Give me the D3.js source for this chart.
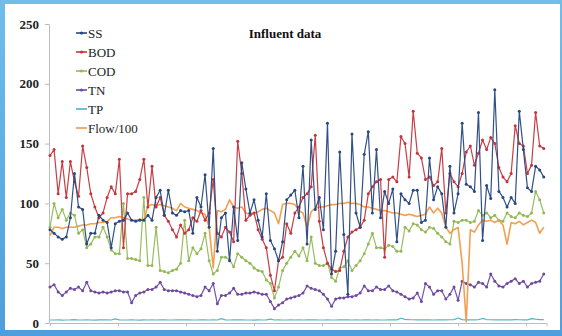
<!DOCTYPE html>
<html>
<head>
<meta charset="utf-8">
<script src="https://cdn.jsdelivr.net/npm/d3@7"></script>
<style>
  html, body { margin: 0; padding: 0; background: #fff; }
  svg { display: block; }
</style>
</head>
<body>
<div id="chart"></div>
<script>
// day index of each sample (every 3rd day of the year)
const days = d3.range(0, 366, 3);

const ss = [78,75,72,70,72,88,125,97,95,66,75,75,90,86,84,63,83,85,86,92,86,85,86,86,90,86,105,111,90,111,
  92,90,94,93,94,75,105,97,124,80,146,60,88,92,52,97,69,134,112,92,103,86,72,108,69,62,52,68,103,107,
  111,88,131,66,153,95,105,78,167,41,60,143,74,24,158,92,80,141,160,92,145,88,110,100,112,68,108,103,100,111,
  111,84,86,138,103,114,108,80,131,92,108,167,116,114,110,176,69,115,104,195,110,105,97,105,100,177,145,113,110,131,
  128,122];
const bod = [140,145,108,135,105,135,118,106,148,130,108,97,88,92,105,114,108,137,63,108,108,110,120,137,97,131,97,105,90,85,
  78,72,82,75,78,88,85,94,86,92,120,75,72,80,76,68,152,125,86,90,92,78,70,63,40,27,52,55,83,75,
  92,97,105,108,114,157,85,63,50,45,43,44,60,72,76,78,80,86,108,114,118,120,55,120,122,118,156,150,122,177,
  142,138,120,122,115,118,146,92,125,118,114,125,143,148,132,142,153,145,155,150,130,122,118,125,165,150,148,125,132,176,
  148,146];
const cod = [80,100,88,95,86,92,90,75,78,63,66,72,72,80,72,61,58,58,100,54,54,53,52,105,48,48,80,44,43,42,
  44,45,50,86,52,63,58,62,75,52,41,44,55,55,53,47,58,55,52,50,46,44,43,36,33,21,30,44,50,55,
  60,56,63,52,72,50,48,48,50,38,35,46,47,52,44,48,52,58,66,75,63,63,62,65,64,60,60,80,77,83,
  82,78,76,80,79,75,72,68,66,85,84,86,86,84,85,94,90,92,88,90,86,85,92,89,88,92,90,89,92,110,
  103,92];
const tn = [30,32,26,23,26,29,28,30,27,34,27,26,25,26,25,26,27,27,26,26,17,23,25,26,28,28,30,34,28,27,
  27,27,26,25,24,23,22,23,30,27,33,16,23,23,25,29,24,24,25,25,26,25,24,24,18,12,15,17,20,21,
  22,23,25,31,29,28,27,24,20,14,20,21,21,22,22,23,25,31,27,27,30,28,28,31,27,26,24,22,20,21,
  25,18,33,30,24,27,27,20,24,30,19,35,33,32,30,34,33,30,41,35,31,30,33,35,37,33,35,30,33,34,
  35,41];
const tp = [2.5,2.5,2.6,2.4,2.5,2.6,2.8,2.5,2.5,2.6,2.5,2.4,2.6,2.7,2.6,2.5,3.4,2.6,2.5,2.5,2.6,2.5,2.4,2.6,2.5,2.6,2.5,2.7,2.6,2.5,
  2.5,2.6,2.6,2.7,2.6,2.5,2.5,2.6,2.7,2.5,2.6,2.5,3.6,2.6,2.5,2.6,2.7,2.6,2.5,2.5,2.4,2.6,2.5,2.6,3.2,2.5,2.6,2.5,2.5,2.6,
  2.5,2.6,2.5,2.7,2.6,2.6,2.5,2.5,2.6,2.5,2.5,2.6,2.7,2.6,2.5,2.6,2.5,2.6,2.6,2.5,2.6,2.5,2.5,2.6,2.7,2.6,4.0,3.0,2.8,2.7,
  2.6,2.6,2.7,2.6,2.5,2.6,2.7,2.6,2.7,2.8,4.2,2.8,2.6,2.7,2.6,2.8,3.8,2.9,2.7,2.6,2.7,2.6,2.7,2.6,2.8,2.7,2.6,2.6,3.6,3.2,
  2.9,2.8];
const flow = [73,80,80,79,80,80,80,81,82,82,83,83,84,84,85,88,88,89,88,87,86,86,87,86,98,99,98,99,98,97,
  96,94,100,97,96,95,94,92,91,80,46,94,93,95,103,97,96,97,92,91,92,93,95,96,94,92,83,99,100,100,
  99,94,92,80,93,96,97,97,98,99,99,100,100,101,100,100,99,97,97,96,95,94,94,93,92,92,91,90,91,90,
  89,90,91,97,92,96,92,80,75,78,80,50,1,78,76,82,86,85,86,84,86,82,66,84,83,85,82,84,86,84,
  75,80];

const seriesNames = ['SS', 'BOD', 'COD', 'TN', 'TP', 'Flow/100'];
const seriesValues = [ss, bod, cod, tn, tp, flow];
const seriesColors = ['#27477f', '#c4343a', '#93b856', '#6e4a9e', '#4fb0c6', '#f29a48'];
const yTicks = [0, 50, 100, 150, 200, 250];
const xTicks = [0, 50, 100, 150, 200, 250, 300, 350];

const W = 562, H = 336;
const svg = d3.select('#chart').append('svg')
  .attr('width', W)
  .attr('height', H);

// blue frame around the slide
const defs = svg.append('defs');
const grad = defs.append('linearGradient')
  .attr('id', 'frame')
  .attr('x1', 0).attr('y1', 0).attr('x2', 0).attr('y2', 1);
grad.append('stop').attr('offset', '0%').attr('stop-color', '#70bdec');
grad.append('stop').attr('offset', '100%').attr('stop-color', '#4f9edb');

svg.append('rect')
  .attr('width', W).attr('height', H)
  .attr('fill', 'url(#frame)');
svg.append('rect')
  .attr('x', 5).attr('y', 4)
  .attr('width', 555).attr('height', 326)
  .attr('fill', '#ffffff');

const x = d3.scaleLinear().domain([0, 365]).range([50, 546.5]);
const y = d3.scaleLinear().domain([0, 250]).range([323, 24]);

// y axis
const yAxis = svg.append('g')
  .attr('transform', 'translate(49,0)')
  .call(d3.axisLeft(y).tickValues(yTicks).tickSize(4).tickPadding(6));
yAxis.select('.domain').attr('stroke', '#bdbdbd');
yAxis.selectAll('.tick line').attr('stroke', '#bdbdbd');
yAxis.selectAll('.tick text')
  .attr('font-family', '"Liberation Serif", "Times New Roman", serif')
  .attr('font-weight', 'bold')
  .attr('font-size', 13)
  .attr('fill', '#222');

// x axis without labels
const xAxis = svg.append('g')
  .attr('transform', 'translate(0,323)')
  .call(d3.axisBottom(x).tickValues(xTicks).tickSize(3).tickFormat(''));
xAxis.select('.domain').attr('stroke', '#bdbdbd');
xAxis.selectAll('.tick line').attr('stroke', '#bdbdbd');

const line = d3.line()
  .x((d, i) => x(days[i]))
  .y(d => y(d));

// draw in this order so that SS/BOD sit on top like the original
const drawOrder = [4, 3, 2, 5, 1, 0];
drawOrder.forEach(function(k) {
  const g = svg.append('g');
  g.append('path')
    .datum(seriesValues[k])
    .attr('fill', 'none')
    .attr('stroke', seriesColors[k])
    .attr('stroke-width', k === 5 ? 1.6 : 1.2)
    .attr('stroke-linejoin', 'round')
    .attr('opacity', 0.95)
    .attr('d', line);
  if (k < 4) {
    g.selectAll('circle')
      .data(seriesValues[k])
      .enter()
        .append('circle')
        .attr('cx', (d, i) => x(days[i]))
        .attr('cy', d => y(d))
        .attr('r', 1.5)
        .attr('fill', seriesColors[k]);
  }
});

// title
svg.append('text')
  .attr('x', 285)
  .attr('y', 38)
  .attr('text-anchor', 'middle')
  .attr('font-family', '"Liberation Serif", "Times New Roman", serif')
  .attr('font-weight', 'bold')
  .attr('font-size', 13)
  .attr('fill', '#111')
  .text('Influent data');

// legend
const legend = svg.append('g').attr('transform', 'translate(76,33)');
seriesNames.forEach(function(name, i) {
  const row = legend.append('g').attr('transform', 'translate(0,' + (i * 19) + ')');
  row.append('line')
    .attr('x1', 0).attr('x2', 11)
    .attr('y1', 0).attr('y2', 0)
    .attr('stroke', seriesColors[i])
    .attr('stroke-width', 1.6);
  if (i < 4) {
    row.append('circle')
      .attr('cx', 5.5).attr('cy', 0).attr('r', 1.6)
      .attr('fill', seriesColors[i]);
  }
  row.append('text')
    .attr('x', 12)
    .attr('y', 4.5)
    .attr('font-family', '"Liberation Serif", "Times New Roman", serif')
    .attr('font-size', 13)
    .attr('fill', '#222')
    .text(name);
});
</script>
</body>
</html>
